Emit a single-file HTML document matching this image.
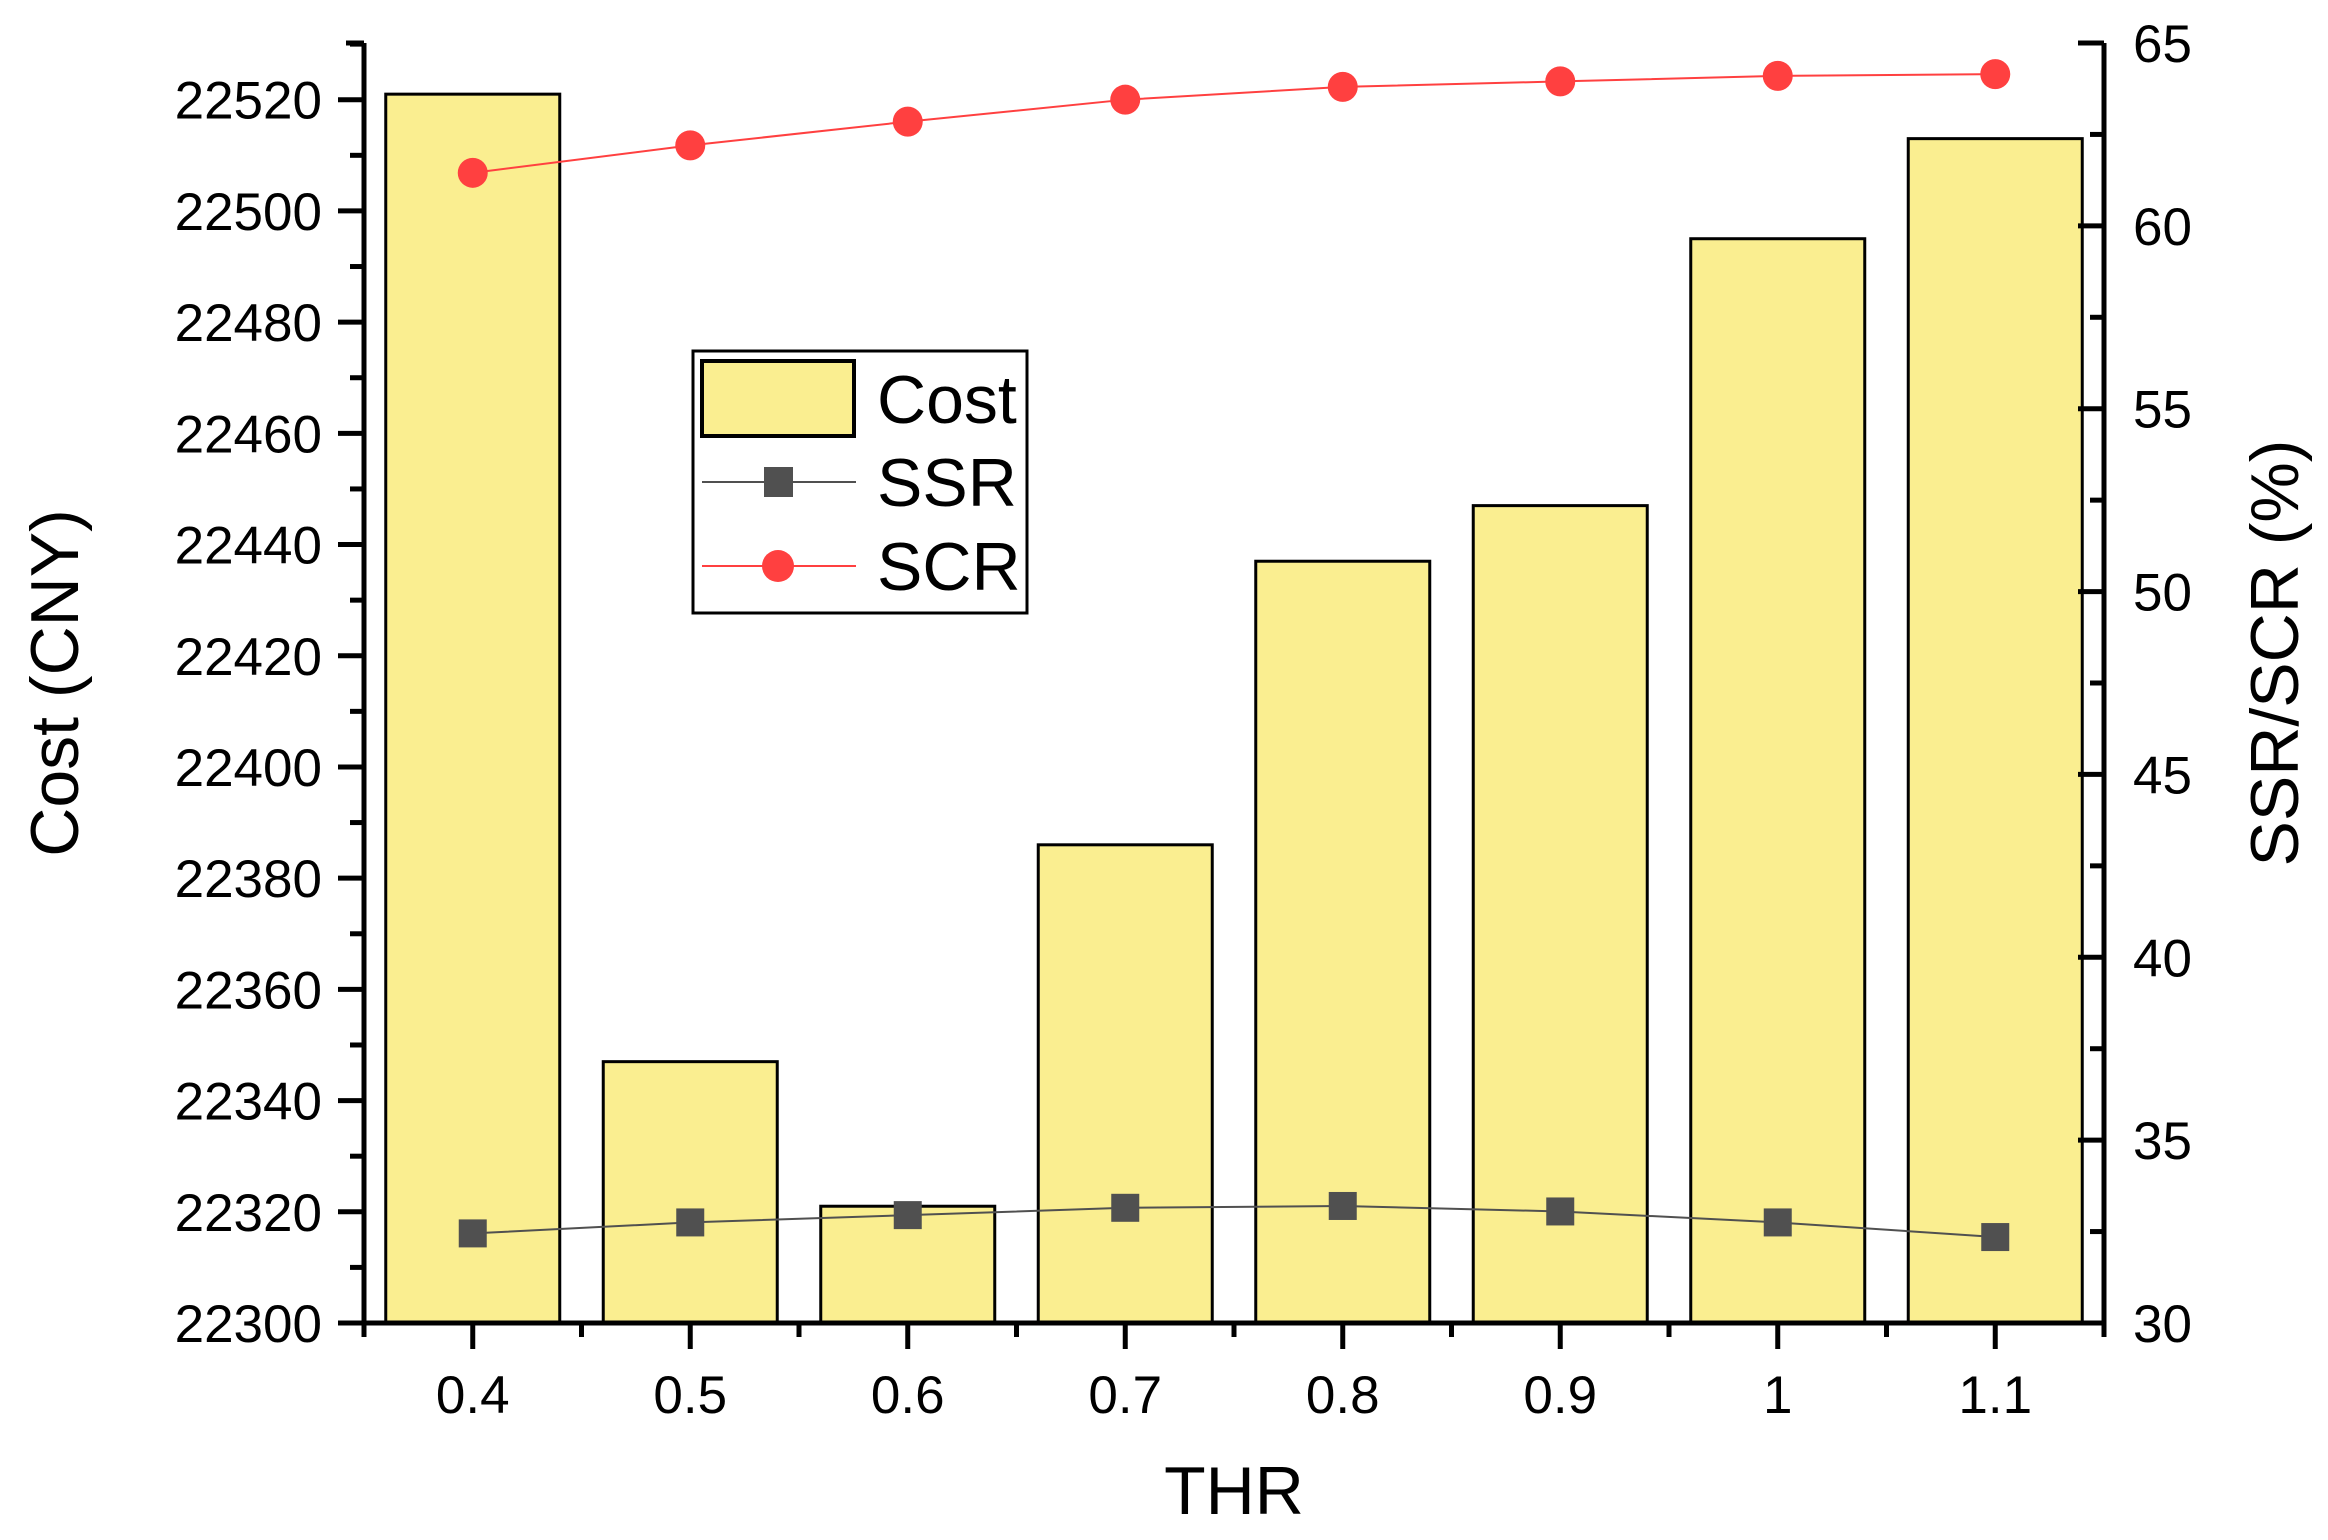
<!DOCTYPE html>
<html><head><meta charset="utf-8"><style>
html,body{margin:0;padding:0;background:#fff;}
svg{display:block;font-family:"Liberation Sans",Arial,sans-serif;}
</style></head><body>
<svg id="chart" width="2328" height="1540" viewBox="0 0 2328 1540" xmlns="http://www.w3.org/2000/svg">
<g id="bars"></g>
<g id="lines"></g>
<g id="axes"></g>
<text x="1234" y="1514" font-size="68" text-anchor="middle">THR</text>
<text transform="translate(78,683) rotate(-90)" font-size="68" text-anchor="middle">Cost (CNY)</text>
<text transform="translate(2298,653) rotate(-90)" font-size="68" text-anchor="middle">SSR/SCR (%)</text>
<g>
<rect x="693" y="351" width="334" height="262" fill="#fff" stroke="#000" stroke-width="3"/>
<rect x="702" y="361" width="152" height="75" fill="#faee90" stroke="#000" stroke-width="4"/>
<text x="877" y="423" font-size="68">Cost</text>
<line x1="702" y1="482" x2="856" y2="482" stroke="#505050" stroke-width="2"/>
<rect x="764" y="467" width="29" height="30" fill="#505050"/>
<text x="877" y="506" font-size="68">SSR</text>
<line x1="702" y1="566" x2="856" y2="566" stroke="#ff4040" stroke-width="2"/>
<circle cx="778" cy="566" r="16" fill="#ff4040"/>
<text x="877" y="590" font-size="68">SCR</text>
</g>
</svg>
<script>
const categories = ["0.4","0.5","0.6","0.7","0.8","0.9","1","1.1"];
const costValues = [22521,22347,22321,22386,22437,22447,22495,22513];
const ssrValues = [32.45,32.75,32.95,33.15,33.2,33.05,32.75,32.35];
const scrValues = [61.45,62.2,62.85,63.45,63.8,63.95,64.1,64.15];
const leftTicks = [22300,22320,22340,22360,22380,22400,22420,22440,22460,22480,22500,22520];
const rightTicks = [30,35,40,45,50,55,60,65];

const NS="http://www.w3.org/2000/svg";
const L=364,R=2104,T=43,B=1323;
const leftMin=22300,leftMax=22530.2,rightMin=30,rightMax=65;
const step=(R-L)/categories.length;
function xS(i){return L+step*(i+0.5);}
function yL(v){return B-(v-leftMin)/(leftMax-leftMin)*(B-T);}
function yR(v){return B-(v-rightMin)/(rightMax-rightMin)*(B-T);}
function mk(tag,attrs,parent){const e=document.createElementNS(NS,tag);for(const k in attrs)e.setAttribute(k,attrs[k]);parent.appendChild(e);return e;}

const bars=document.getElementById('bars');
const bw=step*0.8;
costValues.forEach((v,i)=>{
  const r=mk('rect',{x:xS(i)-bw/2,y:yL(v),width:bw,height:B-yL(v),fill:'#faee90',stroke:'#000','stroke-width':3},bars);
  
  
});

const lines=document.getElementById('lines');
const ssrPts=ssrValues.map((v,i)=>xS(i)+','+yR(v)).join(' ');
const sl=mk('polyline',{points:ssrPts,fill:'none',stroke:'#505050','stroke-width':2},lines);


const scPts=scrValues.map((v,i)=>xS(i)+','+yR(v)).join(' ');
const cl=mk('polyline',{points:scPts,fill:'none',stroke:'#ff4040','stroke-width':2},lines);


ssrValues.forEach((v,i)=>{
  const m=mk('rect',{x:xS(i)-14,y:yR(v)-14,width:28,height:28,fill:'#505050'},lines);
  
  
});
scrValues.forEach((v,i)=>{
  const m=mk('circle',{cx:xS(i),cy:yR(v),r:15,fill:'#ff4040'},lines);
  
  
});

const ax=document.getElementById('axes');
const sw=5;
mk('line',{x1:L,y1:T,x2:L,y2:B+2,stroke:'#000','stroke-width':sw},ax);
mk('line',{x1:R,y1:T,x2:R,y2:B+2,stroke:'#000','stroke-width':sw},ax);
mk('line',{x1:L-2,y1:B,x2:R+2,y2:B,stroke:'#000','stroke-width':sw},ax);
mk('line',{x1:L-18,y1:T,x2:L,y2:T,stroke:'#000','stroke-width':sw},ax);
mk('line',{x1:R-26,y1:T,x2:R,y2:T,stroke:'#000','stroke-width':sw},ax);
// left ticks
leftTicks.forEach(v=>{
  mk('line',{x1:L-26,y1:yL(v),x2:L,y2:yL(v),stroke:'#000','stroke-width':sw},ax);
  const t=mk('text',{x:L-42,y:yL(v)+19,'font-size':53,'text-anchor':'end'},ax);
  t.textContent=v;
  
  
  const mv=v+10;
  if(mv<leftMax) mk('line',{x1:L-14,y1:yL(mv),x2:L,y2:yL(mv),stroke:'#000','stroke-width':sw},ax);
});
// right ticks
rightTicks.forEach(v=>{
  mk('line',{x1:R-26,y1:yR(v),x2:R,y2:yR(v),stroke:'#000','stroke-width':sw},ax);
  const t=mk('text',{x:R+29,y:yR(v)+19,'font-size':53},ax);
  t.textContent=v;
  
  
  const mv=v+2.5;
  if(mv<rightMax) mk('line',{x1:R-14,y1:yR(mv),x2:R,y2:yR(mv),stroke:'#000','stroke-width':sw},ax);
});
// x ticks
categories.forEach((c,i)=>{
  mk('line',{x1:xS(i),y1:B,x2:xS(i),y2:B+26,stroke:'#000','stroke-width':sw},ax);
  const t=mk('text',{x:xS(i),y:B+90,'font-size':53,'text-anchor':'middle'},ax);
  t.textContent=c;
  
  
});
for(let i=0;i<=categories.length;i++){
  mk('line',{x1:L+step*i,y1:B,x2:L+step*i,y2:B+14,stroke:'#000','stroke-width':sw},ax);
}
</script>
</body></html>
